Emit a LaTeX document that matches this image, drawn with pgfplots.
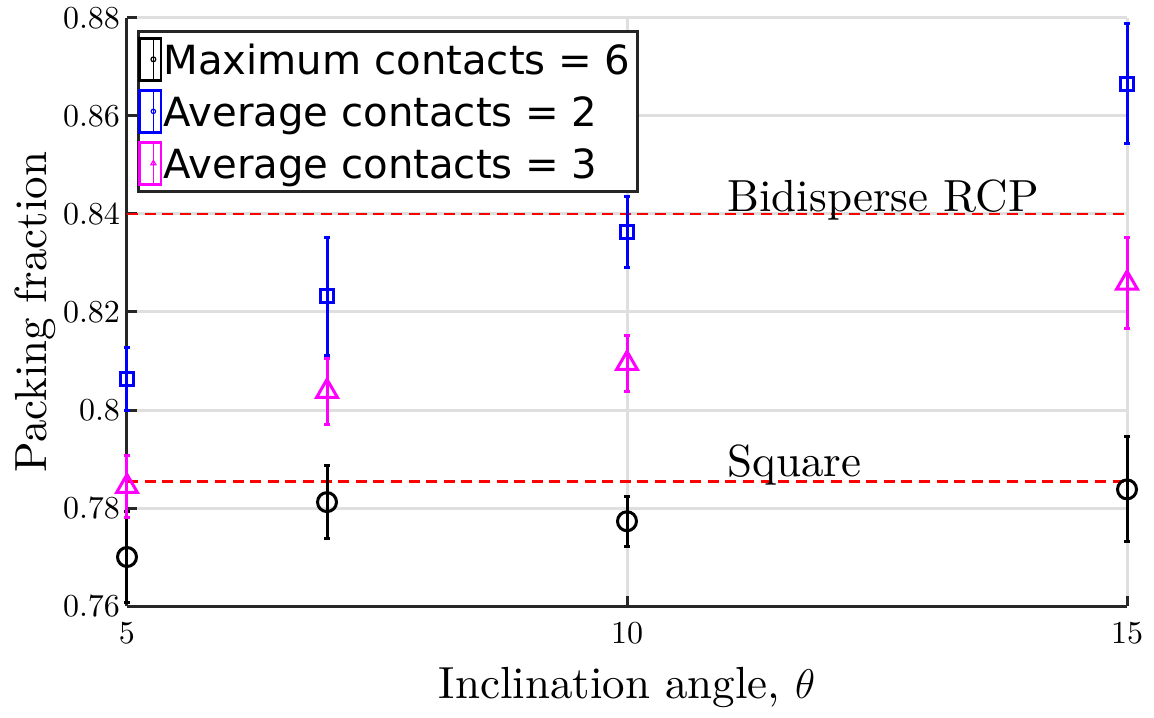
\documentclass[border=0pt]{standalone}
\usepackage{fontspec}
\setmainfont{lmroman10-regular.otf}[ItalicFont=lmroman10-italic.otf,BoldFont=lmroman10-bold.otf]
\newfontfamily\legendfont{DejaVu Sans}
\usepackage{pgfplots}
\usepackage{pgfplotstable}
\pgfplotsset{compat=1.18}

\definecolor{axgray}{RGB}{38,38,38}
\definecolor{gridgray}{RGB}{223,223,223}
\definecolor{mblue}{RGB}{0,0,255}
\definecolor{mmagenta}{RGB}{255,0,255}
\definecolor{mred}{RGB}{255,0,0}

% packing fraction vs inclination angle: mean and error
\pgfplotstableread{
x   y       e
5   0.7700  0.0092
7   0.7812  0.0075
10  0.7773  0.0051
15  0.7838  0.0107
}\maxsix
\pgfplotstableread{
x   y       e
5   0.8064  0.0064
7   0.8232  0.0120
10  0.8363  0.0073
15  0.8666  0.0123
}\avgtwo
\pgfplotstableread{
x   y       e
5   0.7844  0.0064
7   0.8038  0.0068
10  0.8095  0.0057
15  0.8259  0.0093
}\avgthree

% small error-bar glyph for the legend
\pgfplotsset{
  errleg/.style n args={3}{legend image code/.code={
    \path (0pt,-10.5pt) rectangle (10.7pt,10.5pt);
    \draw[#1, line width=0.8pt] (6.85pt,-10.5pt) -- (6.85pt,10.5pt)
      (5.7pt,-10.5pt) -- (8pt,-10.5pt) (5.7pt,10.5pt) -- (8pt,10.5pt);
    \begin{scope}[#1, line width=0.6pt, fill=white, shift={(6.85pt,0pt)}]
      \pgfsetplotmarksize{#3}\pgfuseplotmark{#2}
    \end{scope}
  }},
}

\begin{document}
\begin{tikzpicture}
\useasboundingbox (-63.5pt,-55.5pt) rectangle (513.5pt,303pt);
\begin{axis}[
  at={(0pt,0pt)}, anchor=south west,
  scale only axis, width=500pt, height=294pt,
  xmin=5, xmax=15, ymin=0.76, ymax=0.88,
  xtick={5,10,15},
  ytick={0.76,0.78,0.8,0.82,0.84,0.86,0.88},
  scaled y ticks=false,
  axis x line*=bottom, axis y line*=left,
  axis line style={draw=axgray, line width=1.5pt, -},
  tick align=inside,
  major tick length=5pt,
  tick style={draw=axgray, line width=1.5pt},
  grid=major,
  major grid style={draw=gridgray, line width=1.5pt},
  tick label style={font=\fontsize{16}{16}\selectfont},
  xticklabel style={yshift=-4.5pt},
  /pgf/number format/assume math mode=true,
  xlabel={Inclination angle, $\theta$},
  ylabel={Packing fraction},
  label style={font=\fontsize{22.5}{22.5}\selectfont},
  xlabel style={at={(axis description cs:0.5,-0.158)}, anchor=base},
  ylabel style={at={(axis description cs:-0.081,0.5)}, anchor=base},
  legend cell align=left,
  legend style={
    at={(axis description cs:0.01,0.9796)}, anchor=north west,
    draw=axgray, line width=1.35pt, fill=white,
    inner xsep=0pt, inner ysep=1pt,
    row sep=0pt,
    font=\legendfont\fontsize{20.1}{20.1}\selectfont,
    nodes={inner xsep=0.5pt, inner ysep=1pt, text height=19.35pt, text depth=4.65pt},
  },
  clip=false,
]

% reference packing fractions
\addplot[mred, line width=1.35pt, dash pattern=on 5.5pt off 3.3pt, forget plot]
  coordinates {(5,0.84) (15,0.84)};
\addplot[mred, line width=1.35pt, dash pattern=on 5.5pt off 3.3pt, forget plot]
  coordinates {(5,0.7854) (15,0.7854)};

\addplot[errleg={black}{o}{1.2pt}, black, only marks, mark=o, mark size=4.75pt,
  mark options={line width=1.5pt, solid},
  error bars/.cd, y dir=both, y explicit,
  error bar style={line width=1.5pt, black},
  error mark options={rotate=90, mark size=1.5pt, line width=1.5pt, black}]
  table[x=x, y=y, y error=e] {\maxsix};
\addlegendentry{Maximum contacts = 6\hspace*{3pt}}

\addplot[errleg={mblue}{o}{1.1pt}, mblue, only marks, mark=square, mark size=3.25pt,
  mark options={line width=1.5pt, solid},
  error bars/.cd, y dir=both, y explicit,
  error bar style={line width=1.5pt, mblue},
  error mark options={rotate=90, mark size=1.5pt, line width=1.5pt, mblue}]
  table[x=x, y=y, y error=e] {\avgtwo};
\addlegendentry{Average contacts = 2}

\addplot[errleg={mmagenta}{triangle}{1.5pt}, mmagenta, only marks, mark=triangle, mark size=6pt,
  mark options={line width=1.5pt, solid},
  error bars/.cd, y dir=both, y explicit,
  error bar style={line width=1.5pt, mmagenta},
  error mark options={rotate=90, mark size=1.5pt, line width=1.5pt, mmagenta}]
  table[x=x, y=y, y error=e] {\avgthree};
\addlegendentry{Average contacts = 3}

\node[anchor=base west, inner sep=0pt, font=\fontsize{22.5}{22.5}\selectfont]
  at (axis cs:11,0.84055) {Bidisperse RCP};
\node[anchor=base west, inner sep=0pt, font=\fontsize{22.5}{22.5}\selectfont]
  at (axis cs:11,0.7864) {Square};
\end{axis}
\end{tikzpicture}
\end{document}
